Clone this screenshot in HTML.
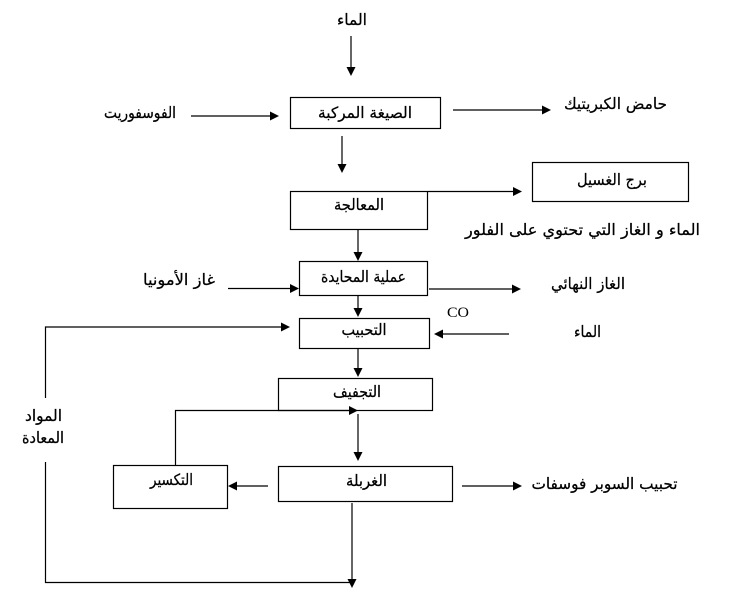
<!DOCTYPE html>
<html>
<head>
<meta charset="utf-8">
<style>
html,body{margin:0;padding:0;background:#fff;}
svg{display:block;}
text{font-family:"DejaVu Sans","Liberation Sans",sans-serif;font-size:15.5px;fill:#000;stroke:#000;stroke-width:0.25;}
.co{font-family:"Liberation Serif",serif;font-size:15px;stroke:none;}
</style>
</head>
<body>
<svg width="755" height="597" viewBox="0 0 755 597" xmlns="http://www.w3.org/2000/svg">
<g stroke="#000" stroke-width="1.2" fill="none">
  <rect x="290.5" y="97.5" width="150" height="31"/>
  <rect x="290.5" y="191.5" width="137" height="38"/>
  <rect x="532.5" y="162.5" width="156" height="39"/>
  <rect x="299.5" y="261.5" width="128" height="34"/>
  <rect x="299.5" y="318.5" width="130" height="30"/>
  <rect x="278.5" y="378.5" width="154" height="32"/>
  <rect x="278.5" y="466.5" width="174" height="35"/>
  <rect x="113.5" y="465.5" width="114" height="43"/>
  <line x1="351" y1="36" x2="351" y2="70"/>
  <line x1="191" y1="116" x2="272" y2="116"/>
  <line x1="453" y1="110" x2="545" y2="110"/>
  <line x1="342" y1="136" x2="342" y2="166"/>
  <line x1="428" y1="191.5" x2="515" y2="191.5"/>
  <line x1="358" y1="229" x2="358" y2="254"/>
  <line x1="228" y1="288.5" x2="292" y2="288.5"/>
  <line x1="429" y1="289" x2="514" y2="289"/>
  <line x1="358" y1="295" x2="358" y2="310"/>
  <polyline points="45.5,398 45.5,327 283,327"/>
  <line x1="509" y1="334" x2="441" y2="334"/>
  <line x1="358" y1="348" x2="358" y2="370"/>
  <polyline points="175.5,465 175.5,410.5 351,410.5"/>
  <line x1="358" y1="414" x2="358" y2="454"/>
  <line x1="268" y1="486" x2="235" y2="486"/>
  <line x1="462" y1="486" x2="515" y2="486"/>
  <line x1="352" y1="503" x2="352" y2="581"/>
  <polyline points="45.5,462 45.5,582.5 352,582.5"/>
</g>
<g fill="#000">
  <polygon points="351,76 346.5,67 355.5,67"/>
  <polygon points="279,116 270,111.5 270,120.5"/>
  <polygon points="551,110 542,105.5 542,114.5"/>
  <polygon points="342,173 337.5,164 346.5,164"/>
  <polygon points="522,191.5 513,187 513,196"/>
  <polygon points="358,261 353.5,252 362.5,252"/>
  <polygon points="299,288.5 290,284 290,293"/>
  <polygon points="521,289 512,284.5 512,293.5"/>
  <polygon points="358,317 353.5,308 362.5,308"/>
  <polygon points="290,327 281,322.5 281,331.5"/>
  <polygon points="434,334 443,329.5 443,338.5"/>
  <polygon points="358,377 353.5,368 362.5,368"/>
  <polygon points="358,410.5 349,406 349,415"/>
  <polygon points="358,461 353.5,452 362.5,452"/>
  <polygon points="228,486 237,481.5 237,490.5"/>
  <polygon points="522,486 513,481.5 513,490.5"/>
  <polygon points="352,588 347.5,579 356.5,579"/>
</g>
<g text-anchor="middle" direction="rtl">
  <text x="352" y="25" textLength="30" lengthAdjust="spacingAndGlyphs">الماء</text>
  <text x="140" y="118" textLength="72" lengthAdjust="spacingAndGlyphs">الفوسفوريت</text>
  <text x="365" y="118" textLength="94" lengthAdjust="spacingAndGlyphs">الصيغة المركبة</text>
  <text x="615.5" y="109" textLength="103" lengthAdjust="spacingAndGlyphs">حامض الكبريتيك</text>
  <text x="359" y="210" textLength="50" lengthAdjust="spacingAndGlyphs">المعالجة</text>
  <text x="612" y="185" textLength="70" lengthAdjust="spacingAndGlyphs">برج الغسيل</text>
  <text x="582.5" y="235" textLength="235" lengthAdjust="spacingAndGlyphs">الماء و الغاز التي تحتوي على الفلور</text>
  <text x="363.5" y="282" textLength="85" lengthAdjust="spacingAndGlyphs">عملية المحايدة</text>
  <text x="179" y="285" textLength="72" lengthAdjust="spacingAndGlyphs">غاز الأمونيا</text>
  <text x="588" y="289" textLength="74" lengthAdjust="spacingAndGlyphs">الغاز النهائي</text>
  <text x="364" y="335" textLength="45" lengthAdjust="spacingAndGlyphs">التحبيب</text>
  <text x="587.5" y="337" textLength="27" lengthAdjust="spacingAndGlyphs">الماء</text>
  <text x="357" y="397" textLength="48" lengthAdjust="spacingAndGlyphs">التجفيف</text>
  <text x="43.5" y="421" textLength="37" lengthAdjust="spacingAndGlyphs">المواد</text>
  <text x="43" y="443" textLength="42" lengthAdjust="spacingAndGlyphs">المعادة</text>
  <text x="171.5" y="485" textLength="43" lengthAdjust="spacingAndGlyphs">التكسير</text>
  <text x="366.5" y="486" textLength="41" lengthAdjust="spacingAndGlyphs">الغربلة</text>
  <text x="604.5" y="489" textLength="146" lengthAdjust="spacingAndGlyphs">تحبيب السوبر فوسفات</text>
</g>
<text class="co" x="447" y="317" textLength="22" lengthAdjust="spacingAndGlyphs">CO</text>
</svg>
</body>
</html>
